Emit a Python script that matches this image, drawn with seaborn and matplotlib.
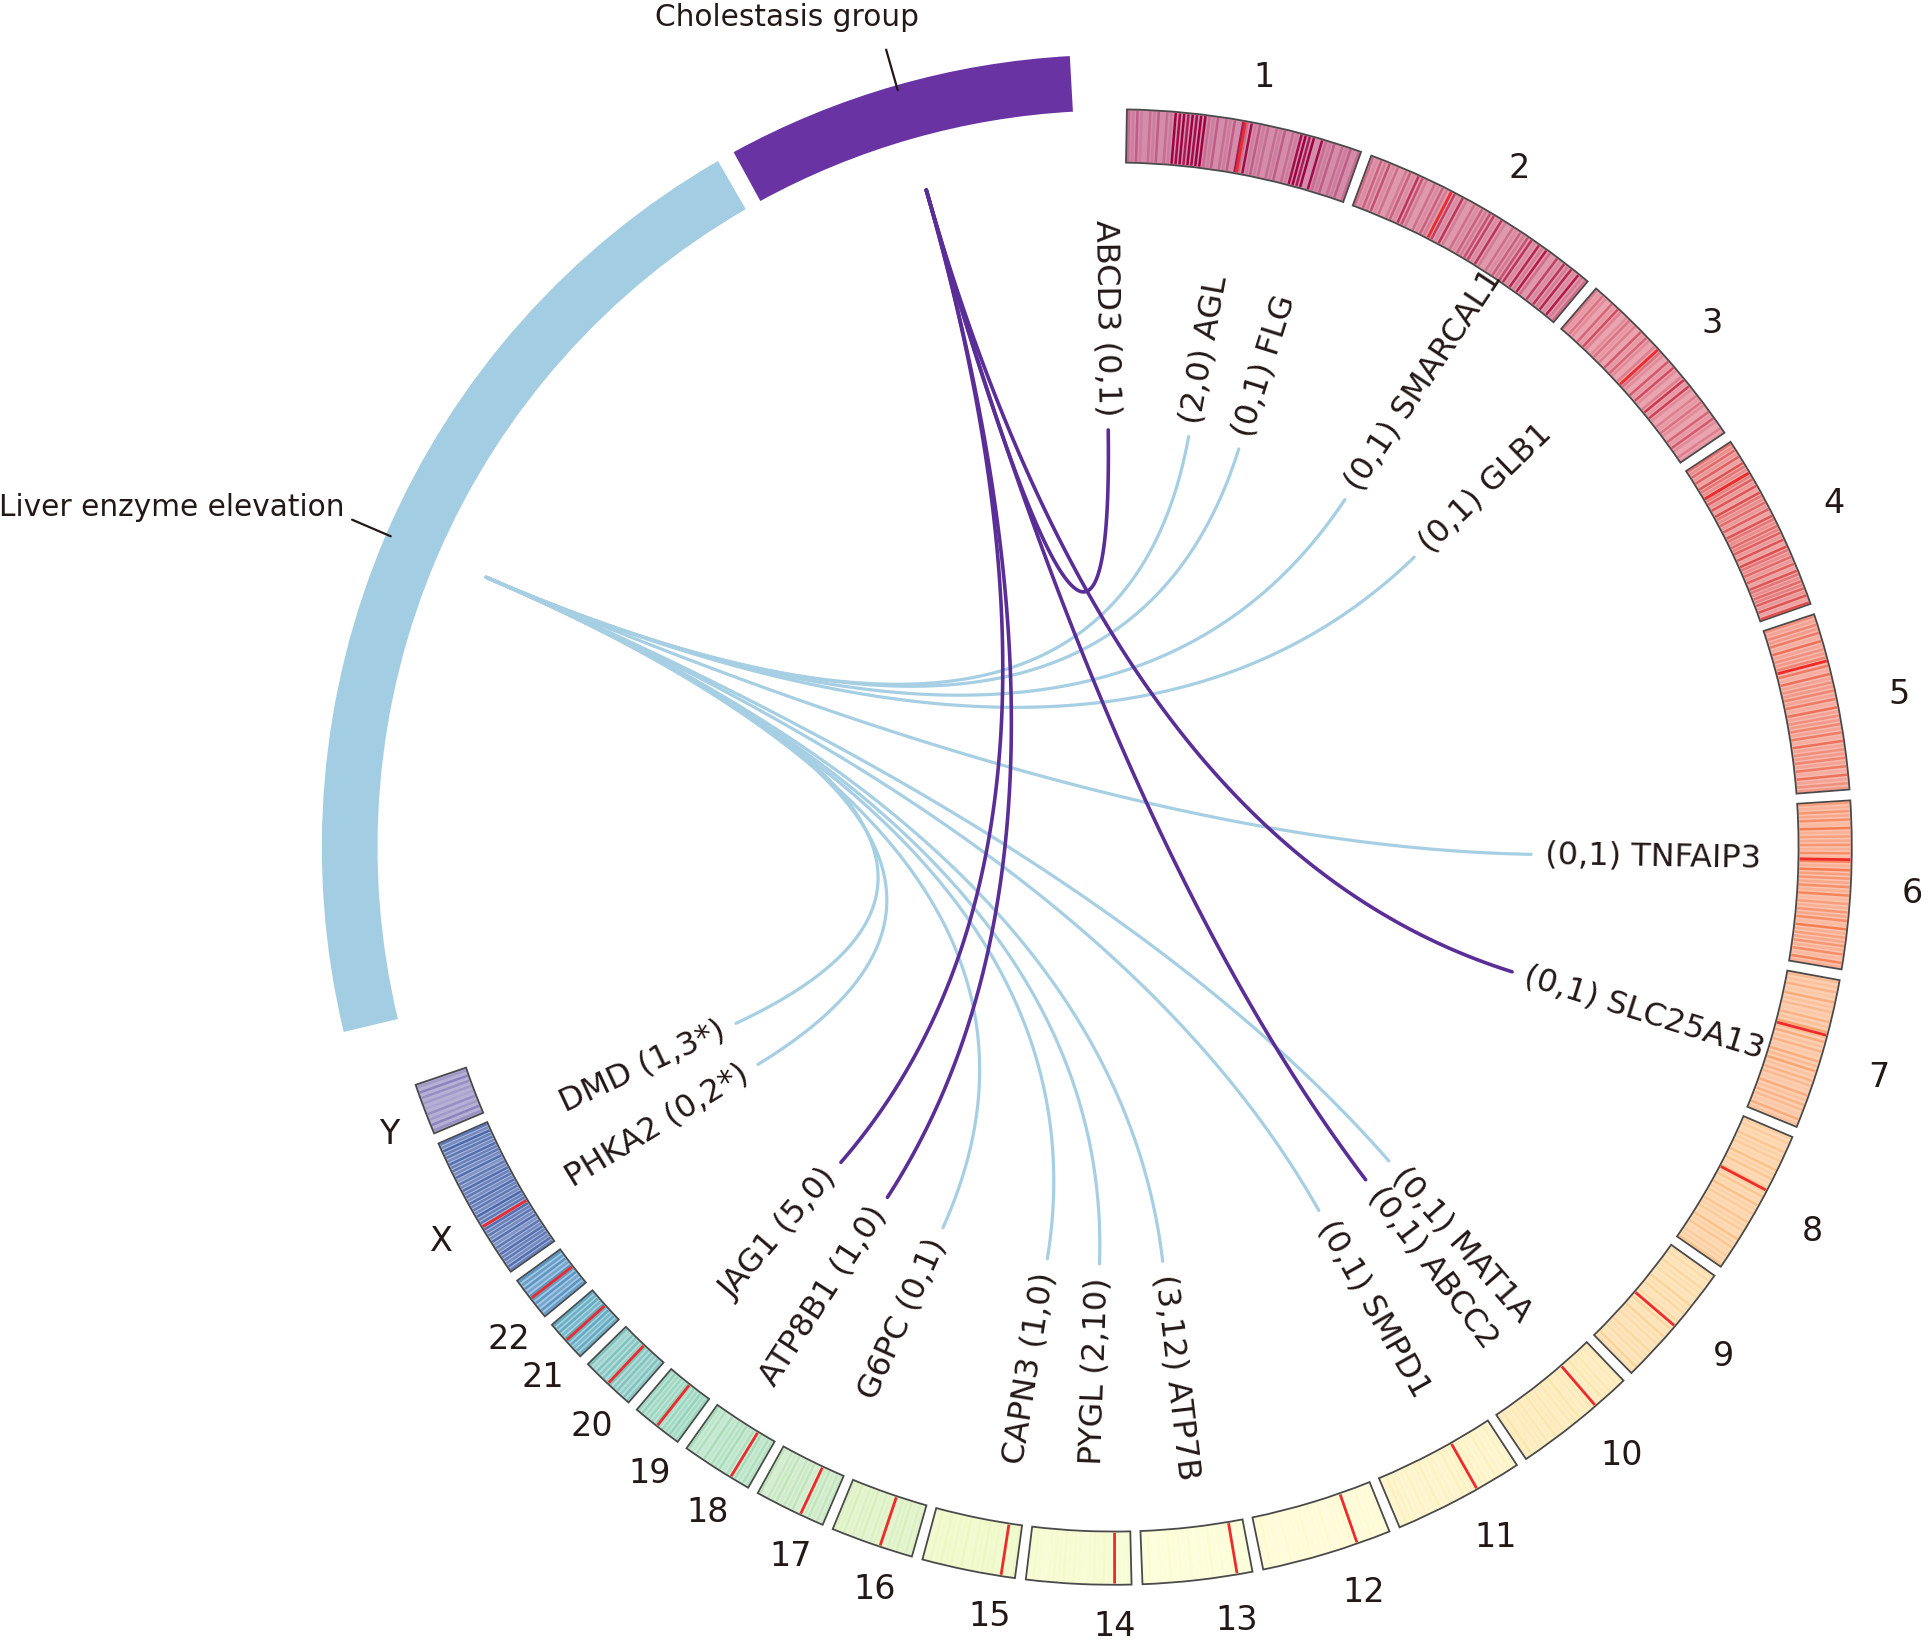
import numpy as np
import pandas as pd
import matplotlib.pyplot as plt
from matplotlib.patches import Wedge
import seaborn as sns

sns.set_theme(style="white")
plt.rcParams['font.family'] = ['DejaVu Sans']

chrom_names = [str(i) for i in range(1, 23)] + ['X', 'Y']
chrom_size = [248, 261, 201, 188, 186, 176, 159, 154, 133, 130, 138, 137,
              115, 110, 98, 87, 75, 76, 54, 58, 44, 47, 153, 54]

# density stripes along each chromosome (0-9), read by eye
band_text = [
    "21310213021989798992130213072813120213021897908213021302",
    "31425130241752031420617203142561720314257182930617281923",
    "314205173024130615203142061720391820314205162031",
    "536271853647281953627185364728195362718536472819",
    "425361724352617243526172435261724352617243",
    "4253618243526172845362714253618243526172",
    "324152314263524153624315243152",
    "231423152413241523142315241324",
    "2314231524132415231423152",
    "2213241322142313241322142",
    "1312412313241231421312341",
    "1213121412031214121302141",
    "120312141203121412031",
    "101213121012131210121",
    "213021312031213120",
    "231423142314231423",
    "3425341534253415",
    "3425142534251425",
    "435342534353",
    "453545354525",
    "5646564656",
    "5646564656",
    "6857685748576857695768576857485768576957",
    "342312342",
]
red_pos = [0.5, 0.35, 0.45, 0.2, 0.27, 0.35, 0.37, 0.4, 0.5, 0.3,
           0.35, 0.26, 0.14, 0.16, 0.15, 0.4, 0.34, 0.28, 0.5, 0.5,
           0.5, 0.5, 0.36, -1]

# group bands (start, end angle in degrees clockwise from top)
group_names = ['Liver enzyme elevation', 'Cholestasis group']
group_start = [256.5, 331.3]
group_end = [330.0, 356.8]
group_colors = ['#a3cde3', '#6a33a3']

# genes: label angle, counts, linked group
genes = ['ABCD3', 'AGL', 'FLG', 'SMARCAL1', 'GLB1', 'TNFAIP3', 'SLC25A13', 'MAT1A',
         'ABCC2', 'SMPD1', 'ATP7B', 'PYGL', 'CAPN3', 'G6PC', 'ATP8B1', 'JAG1',
         'PHKA2', 'DMD']
gene_counts = ['(0,1)', '(2,0)', '(0,1)', '(0,1)', '(0,1)', '(0,1)', '(0,1)', '(0,1)',
               '(0,1)', '(0,1)', '(3,12)', '(2,10)', '(1,0)', '(0,1)', '(1,0)', '(5,0)',
               '(0,2*)', '(1,3*)']
gene_angle = [359.2, 10.3, 17.4, 33.6, 46.0, 91.0, 107.4, 138.8,
              142.9, 150.6, 173.3, 182.0, 189.2, 204.2, 212.9, 220.9,
              238.6, 245.0]
gene_group = ['Cholestasis group', 'Liver enzyme elevation', 'Liver enzyme elevation',
              'Liver enzyme elevation', 'Liver enzyme elevation', 'Liver enzyme elevation',
              'Cholestasis group', 'Liver enzyme elevation', 'Cholestasis group',
              'Liver enzyme elevation', 'Liver enzyme elevation', 'Liver enzyme elevation',
              'Liver enzyme elevation', 'Liver enzyme elevation', 'Cholestasis group',
              'Cholestasis group', 'Liver enzyme elevation', 'Liver enzyme elevation']

# layout (units: ~1/1.238 px, centre of the circle at 0,0)
R_IN, R_OUT = 553, 596
G_IN, G_OUT = 595, 640
R_LINK = 552
R_END = 337
R_LAB = 348
R_NUM = 630
A0, A1, GAP = 1.0, 251.2, 0.85
FS = 23
# small angular nudges of the chromosome numbers, as placed in the original
num_nudge = [0.75, 0.65, 0.5, 0.8, 0.4, 0.35, 0.4, -0.1, -0.6, -1.0, -1.0, -1.7,
             -2.5, -2.8, -2.2, -1.3, -1.6, -1.2, -1.7, -1.3, -0.9, -1.4, -1.0, -0.8]


def pol(theta, r):
    t = np.radians(theta)
    return r * np.sin(t), r * np.cos(t)


def blend(c, w):
    c = np.array(c[:3])
    return tuple(c * (1 - w) + w)


fig = plt.figure(figsize=(19.31, 16.52), dpi=100)
ax = fig.add_axes([0, 0, 1, 1])

cmap = sns.color_palette("Spectral", as_cmap=True)
pal = [cmap(v)[:3] for v in np.linspace(0, 1, len(chrom_names))]
scale = (A1 - A0 - GAP * 23) / sum(chrom_size)

pos = A0
for i, name in enumerate(chrom_names):
    span = chrom_size[i] * scale
    t0, t1 = pos, pos + span
    dark = pal[i]
    ax.add_patch(Wedge((0, 0), R_OUT, 90 - t1, 90 - t0, width=R_OUT - R_IN,
                       facecolor=blend(dark, 0.55), edgecolor='none'))
    s = band_text[i]
    n = len(s)
    for k, ch in enumerate(s):
        v = int(ch)
        if v == 0:
            continue
        th = t0 + (k + 0.5) / n * span
        x0, y0 = pol(th, R_IN + 1)
        x1, y1 = pol(th, R_OUT - 1)
        ax.plot([x0, x1], [y0, y1], color=dark, alpha=min(1, 0.115 * v), lw=1.8,
                solid_capstyle='butt')
    if red_pos[i] >= 0:
        th = t0 + red_pos[i] * span
        x0, y0 = pol(th, R_IN + 1)
        x1, y1 = pol(th, R_OUT - 1)
        ax.plot([x0, x1], [y0, y1], color='#ee2a2a', lw=2.0, solid_capstyle='butt')
    ax.add_patch(Wedge((0, 0), R_OUT, 90 - t1, 90 - t0, width=R_OUT - R_IN,
                       facecolor='none', edgecolor='#4a4a4a', lw=1.3))
    thn = (t0 + t1) / 2 + num_nudge[i]
    rn = R_NUM + 16 * max(0, np.sin(np.radians(thn)))
    tx, ty = pol(thn, rn)
    ax.text(tx, ty, name, ha='center', va='center', fontsize=FS + 1, color='#231815')
    pos = t1 + GAP

# group bands, leaders and labels
mid = {}
for i, g in enumerate(group_names):
    ax.add_patch(Wedge((0, 0), G_OUT, 90 - group_end[i], 90 - group_start[i],
                       width=G_OUT - G_IN, facecolor=group_colors[i], edgecolor='none'))
    mid[g] = (group_start[i] + group_end[i]) / 2
    x0, y0 = pol(mid[g], G_OUT - 4)
    x1, y1 = pol(mid[g], G_OUT + 30)
    ax.plot([x0, x1], [y0, y1], color='#231815', lw=1.6)

ax.text(-264, 670, 'Cholestasis group', ha='center', va='center', fontsize=21.3,
        color='#231815')
ax.text(-622, 274, 'Liver enzyme elevation', ha='right', va='center', fontsize=21.3,
        color='#231815')

# links as quadratic bezier curves through the centre
link_colors = {'Liver enzyme elevation': '#a6cfe4', 'Cholestasis group': '#5a2e96'}
link_width = {'Liver enzyme elevation': 2.3, 'Cholestasis group': 2.6}
t = np.linspace(0, 1, 120)
order = [i for i in range(len(genes)) if gene_group[i] != 'Cholestasis group'] + \
        [i for i in range(len(genes)) if gene_group[i] == 'Cholestasis group']
for i in order:
    g = gene_group[i]
    p0 = np.array(pol(mid[g], R_LINK))
    p2 = np.array(pol(gene_angle[i], R_END))
    xs = (1 - t) ** 2 * p0[0] + t ** 2 * p2[0]
    ys = (1 - t) ** 2 * p0[1] + t ** 2 * p2[1]
    df = pd.DataFrame({'x': xs, 'y': ys})
    sns.lineplot(data=df, x='x', y='y', sort=False, estimator=None, ax=ax,
                 color=link_colors[g], lw=link_width[g])

# gene labels
for i, gname in enumerate(genes):
    th = gene_angle[i] % 360
    lx, ly = pol(th, R_LAB)
    if 0 < th < 180:
        ax.text(lx, ly, f"{gene_counts[i]} {gname}", rotation=90 - th,
                rotation_mode='anchor', ha='left', va='center', fontsize=FS,
                color='#231815')
    else:
        ax.text(lx, ly, f"{gname} {gene_counts[i]}", rotation=270 - th,
                rotation_mode='anchor', ha='right', va='center', fontsize=FS,
                color='#231815')

ax.set_xlim(-900, 660)
ax.set_ylim(-650, 684)
ax.set_aspect('equal')
ax.axis('off')
fig.savefig('out.png', dpi=100, facecolor='white')
